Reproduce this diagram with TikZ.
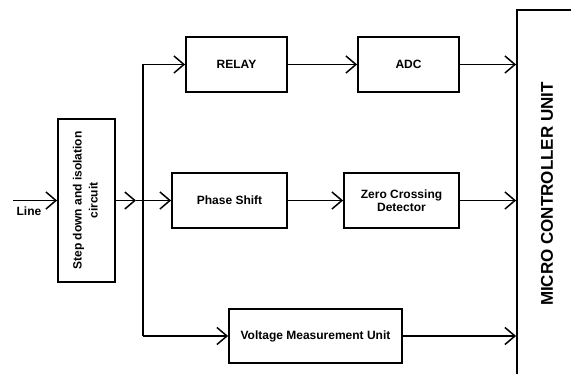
\documentclass[tikz,border=0pt]{standalone}
\usepackage{fontspec}
\setmainfont{Liberation Sans}
\usetikzlibrary{arrows.meta}

\tikzset{
  block/.style={draw,line width=1.8pt,inner sep=0pt,align=center,
    font=\bfseries\fontsize{12}{13.3}\selectfont},
  arr/.style={line width=1.5pt,-{Straight Barb[length=10pt,width=17pt,line width=1.5pt]}},
  wire/.style={line width=1.5pt}
}

\begin{document}
\begin{tikzpicture}[x=1pt,y=-1pt]
    \clip (0,0) rectangle (571,374);

    % Blocks
    \node[block,minimum width=57pt,minimum height=163pt] (step) at (86.5,200.5)
        {\rotatebox{90}{\fontsize{12}{16}\selectfont\begin{tabular}{@{}c@{}}Step down and isolation\\circuit\end{tabular}}};
    \node[block,minimum width=101pt,minimum height=55pt] (relay) at (236.5,64.5) {RELAY};
    \node[block,minimum width=115pt,minimum height=55pt] (phase) at (229.5,200.5) {Phase Shift};
    \node[block,minimum width=173pt,minimum height=54pt] (vmu) at (315.5,336) {Voltage Measurement Unit};
    \node[block,minimum width=101pt,minimum height=55pt] (adc) at (408.5,64.5) {ADC};
    \node[block,minimum width=115pt,minimum height=55pt] (zcd) at (401.5,200.5) {Zero Crossing\\Detector};
    \node[block,minimum width=60pt,minimum height=368pt] (mcu) at (547,194)
        {\rotatebox{90}{\fontsize{17}{20}\selectfont MICRO CONTROLLER UNIT}};

    % Input
    \coordinate (in) at (13,200.5);
    \node[font=\bfseries\fontsize{12}{14}\selectfont] (linelbl) at (29,211) {Line};
    \draw[arr] (in) -- (step.west);

    % Bus
    \coordinate (tap) at (136,200.5);
    \coordinate (bt) at (143,64.5);
    \coordinate (bb) at (143,336);
    \draw[arr] (step.east) -- (tap);
    \draw[arr] (tap) -- (phase.west);
    \draw[wire] (bt) -- (bb);
    \draw[arr] (bt) -- (relay.west);
    \draw[arr] (bb) -- (vmu.west);

    % Stages
    \draw[arr] (relay.east) -- (adc.west);
    \draw[arr] (phase.east) -- (zcd.west);

    % To controller
    \draw[arr] (adc.east) -- (adc.east -| mcu.west);
    \draw[arr] (zcd.east) -- (zcd.east -| mcu.west);
    \draw[arr] (vmu.east) -- (vmu.east -| mcu.west);
\end{tikzpicture}
\end{document}
